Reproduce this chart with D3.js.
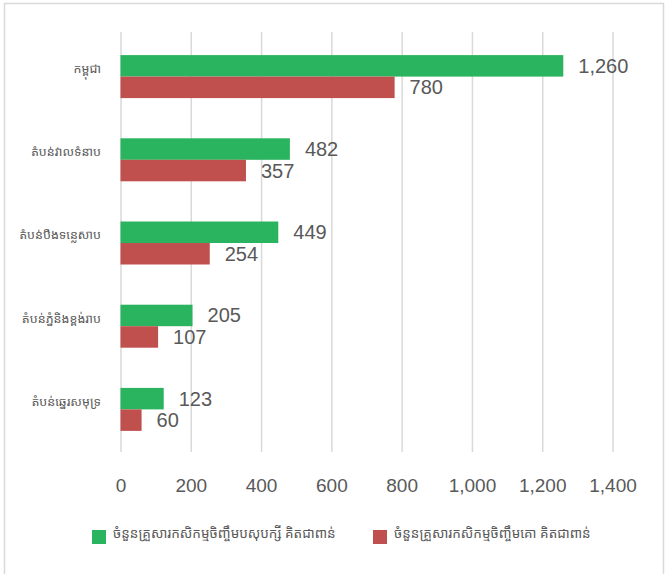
<!DOCTYPE html>
<html>
<head>
<meta charset="utf-8">
<script src="https://cdn.jsdelivr.net/npm/d3@7/dist/d3.min.js"></script>
<style>
  html, body { margin: 0; padding: 0; background: #fff; }
  svg { display: block; }
</style>
</head>
<body>
<div id="chart"></div>
<script>
// categories, top to bottom
var regions = ["កម្ពុជា", "តំបន់វាលទំនាប", "តំបន់បឹងទន្លេសាប", "តំបន់ភ្នំនិងខ្ពង់រាប", "តំបន់ឆ្នេរសមុទ្រ"];
var seriesNames = ["ចំនួនគ្រួសារកសិកម្មចិញ្ចឹមបសុបក្សី គិតជាពាន់", "ចំនួនគ្រួសារកសិកម្មចិញ្ចឹមគោ គិតជាពាន់"];
var poultry = [1260, 482, 449, 205, 123];
var cattle = [780, 357, 254, 107, 60];
var xTicks = [0, 200, 400, 600, 800, 1000, 1200, 1400];
var colors = ["#2bb45f", "#c0504d"];

var width = 669, height = 574;
var textColor = "#595959";
var gridColor = "#d9d9d9";
var numFont = "'Liberation Sans', Arial, sans-serif";
var khmerFont = "'Noto Sans Khmer', 'Khmer OS', 'Noto Sans', sans-serif";

var svg = d3.select("#chart")
    .append("svg")
    .attr("width", width)
    .attr("height", height);

// chart frame
svg.append("rect")
    .attr("x", 4.5)
    .attr("y", 3.5)
    .attr("width", 659)
    .attr("height", 580)
    .attr("fill", "none")
    .attr("stroke", gridColor)
    .attr("stroke-width", 1.5);

var x = d3.scaleLinear([0, 1400], [120.5, 612.5]);
var y = d3.scaleBand(regions, [35, 451]);
var barH = 21.5;

// gridlines + tick labels
var axisX = d3.axisBottom(x)
    .tickValues(xTicks)
    .tickFormat(d3.format(","))
    .tickSize(-(452 - 32))
    .tickPadding(0);

var gx = svg.append("g")
    .attr("transform", "translate(0,452)")
    .call(axisX);

gx.select(".domain").remove();
gx.selectAll(".tick line")
    .attr("stroke", gridColor)
    .attr("stroke-width", 1.5);
gx.selectAll(".tick text")
    .attr("fill", textColor)
    .attr("font-family", numFont)
    .attr("font-size", "19px")
    .attr("y", 39.5)
    .attr("dy", null);

var data = regions.map(function (r, i) {
    return { region: r, values: [poultry[i], cattle[i]] };
});

var groups = svg.selectAll("g.region")
    .data(data)
    .enter()
    .append("g")
        .attr("class", "region")
        .attr("transform", function (d) { return `translate(0,${y(d.region) + y.bandwidth() / 2})`; });

// category labels
groups.append("text")
    .attr("x", 101)
    .attr("y", -7)
    .attr("text-anchor", "end")
    .attr("dominant-baseline", "middle")
    .attr("fill", textColor)
    .attr("font-size", "12.5px")
    .attr("font-family", khmerFont)
    .text(function (d) { return d.region; });

var bars = groups.selectAll("g.bar")
    .data(function (d) { return d.values; })
    .enter()
    .append("g")
        .attr("class", "bar")
        .attr("transform", function (v, j) { return `translate(0,${(j - 1) * barH})`; });

bars.append("rect")
    .attr("x", x(0))
    .attr("y", 0)
    .attr("width", function (v) { return x(v) - x(0); })
    .attr("height", barH)
    .attr("fill", function (v, j) { return colors[j]; });

bars.append("text")
    .attr("x", function (v) { return x(v) + 15; })
    .attr("y", barH / 2 + 7)
    .attr("fill", textColor)
    .attr("font-family", numFont)
    .attr("font-size", "20px")
    .text(d3.format(","));

// legend
var legendX = [92, 373];
var legend = svg.selectAll("g.legend")
    .data(seriesNames)
    .enter()
    .append("g")
        .attr("class", "legend")
        .attr("transform", function (d, i) { return `translate(${legendX[i]},530)`; });

legend.append("rect")
    .attr("width", 14)
    .attr("height", 14)
    .attr("fill", function (d, i) { return colors[i]; });

legend.append("text")
    .attr("x", 21)
    .attr("y", 4)
    .attr("dominant-baseline", "middle")
    .attr("fill", textColor)
    .attr("font-size", "13.5px")
    .attr("font-family", khmerFont)
    .text(function (d) { return d; });
</script>
</body>
</html>
